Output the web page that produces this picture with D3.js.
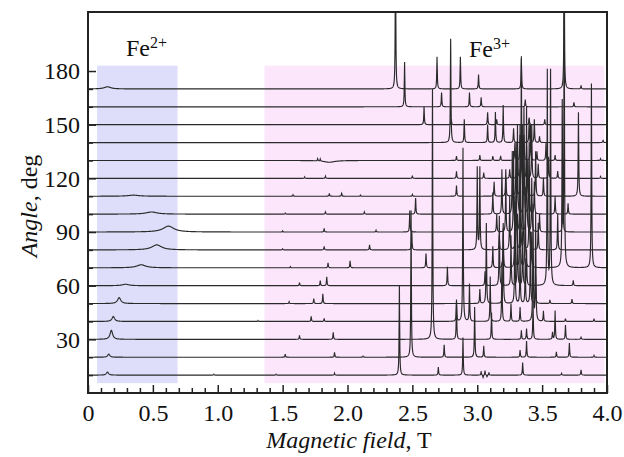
<!DOCTYPE html>
<html>
<head>
<meta charset="utf-8">
<script src="https://cdn.jsdelivr.net/npm/d3@7"></script>
<style>
  body { margin: 0; background: #fff; }
  svg, svg text { font-family: "Liberation Serif", "Times New Roman", serif; }
</style>
</head>
<body>
<div id="chart"></div>
<script>
// peaks of each spectrum: [field (T), intensity (in degrees of the angle axis), half-width (T, optional)]
const trace10 = [[0.15,1.7,0.01],[0.97,0.5],[1.45,0.5],[1.90,1.1],[2.40,50],[2.70,4.5],[2.89,21],[3.03,2],[3.045,-1.5],[3.06,2.5],[3.075,-1],[3.09,1.5],[3.35,7],[3.65,1],[3.80,3]];
const trace20 = [[0.16,1.7,0.01],[1.52,1.7],[1.90,2.8],[2.12,0.6],[2.49,82],[2.745,7],[2.98,28],[3.05,6],[3.33,4],[3.38,9],[3.61,3],[3.71,8],[3.90,1]];
const trace30 = [[0.18,5,0.012],[1.63,2.2],[1.89,3.9],[2.655,140],[2.84,21],[3.11,15],[3.34,5],[3.38,6],[3.43,21],[3.58,4],[3.60,16],[3.68,8],[3.80,1.5]];
const trace40 = [[0.195,2.8,0.012],[1.31,0.5],[1.72,2.8],[1.82,1.7],[2.84,12],[2.89,97],[2.94,21],[3.10,25],[3.19,33],[3.26,10],[3.33,8],[3.43,65],[3.45,60],[3.51,5.5],[3.68,1.5],[3.90,1.5]];
const trace50 = [[0.24,3.3,0.015],[1.55,1],[1.74,2.8],[1.81,5.5],[3.02,8],[3.07,45],[3.20,42],[3.29,57],[3.33,30],[3.37,25],[3.41,40],[3.45,15],[3.56,2],[3.73,2.5]];
const trace60 = [[0.29,0.8,0.03],[1.63,1.7],[1.79,2.8],[1.84,5],[2.77,10.5],[3.06,8],[3.17,39],[3.26,28],[3.31,40],[3.35,30],[3.38,20],[3.54,120],[3.565,120],[3.74,3]];
const trace70 = [[0.41,1.7,0.04],[1.56,0.6],[1.85,2.8],[2.02,3.9],[2.605,8],[3.12,12],[3.20,25],[3.29,40],[3.33,55],[3.37,45],[3.42,20],[3.655,90],[3.67,160],[3.88,103]];
const trace80 = [[0.53,2.8,0.045],[1.50,0.6],[1.82,2],[2.17,2.8],[2.495,11],[3.00,46],[3.02,46],[3.17,8],[3.25,30],[3.30,55],[3.35,70],[3.40,40],[3.47,15],[3.62,20]];
const trace90 = [[0.62,3.3,0.05],[1.50,0.6],[1.82,2],[2.22,1],[2.48,12],[3.15,10],[3.22,30],[3.28,45],[3.33,60],[3.38,70],[3.42,30],[3.48,10],[3.66,30]];
const trace100 = [[0.49,1.2,0.05],[1.52,0.6],[1.83,1.2],[2.13,1.2],[2.525,9],[3.12,12],[3.19,25],[3.27,35],[3.31,50],[3.36,60],[3.40,40],[3.44,18],[3.60,10],[3.70,6]];
const trace110 = [[0.35,0.6,0.05],[1.58,0.8],[1.86,1.6],[1.955,1.6],[2.10,0.6],[2.50,1],[2.84,6],[3.13,8],[3.22,15],[3.30,30],[3.34,78],[3.39,20],[3.45,25],[3.51,10],[3.78,47]];
const trace120 = [[1.67,0.8],[1.83,1.2],[2.50,1.5],[2.84,4],[3.05,3],[3.25,5],[3.31,20],[3.34,25],[3.38,18],[3.42,30],[3.47,8],[3.55,12],[3.62,4],[3.95,1]];
const trace130 = [[1.77,1.2],[1.79,1.2],[1.86,-1,0.05],[2.84,2.5],[3.02,3],[3.12,2.5],[3.18,2.5],[3.29,10],[3.33,14],[3.36,14],[3.41,20],[3.46,5],[3.53,10],[3.60,3],[3.95,1]];
const trace140 = [[2.795,58],[2.90,13],[3.08,10],[3.14,17],[3.20,21],[3.28,8],[3.40,13],[3.44,13],[3.48,3.5],[3.97,1.5]];
const trace150 = [[2.59,10],[2.80,3],[3.08,7],[3.15,3],[3.40,4],[3.52,3]];
const trace160 = [[2.44,25],[2.725,8],[2.94,8],[3.03,5],[3.37,4],[3.745,2.5]];
const trace170 = [[0.15,1.2,0.03],[2.37,80],[2.69,18],[2.87,18],[3.01,8],[3.34,17],[3.67,80],[3.80,2]];

const angles = [10, 20, 30, 40, 50, 60, 70, 80, 90, 100, 110, 120, 130, 140, 150, 160, 170];
const spectra = [trace10, trace20, trace30, trace40, trace50, trace60, trace70, trace80, trace90,
                 trace100, trace110, trace120, trace130, trace140, trace150, trace160, trace170];

const fe2Band = [0.07, 0.69];
const fe3Band = [1.36, 3.98];
const bandAngles = [5.5, 183];

const xTickValues = [0, 0.5, 1.0, 1.5, 2.0, 2.5, 3.0, 3.5, 4.0];
const yTickValues = [30, 60, 90, 120, 150, 180];
const yMinorValues = [10, 20, 40, 50, 70, 80, 100, 110, 130, 140, 160, 170];

const width = 624, height = 457;
const plotLeft = 88, plotRight = 607, plotTop = 12, plotBottom = 393;

const svg = d3.select("#chart").append("svg")
    .attr("width", width)
    .attr("height", height);

const xScale = d3.scaleLinear().domain([0, 4]).range([plotLeft, plotRight]);
const yScale = d3.scaleLinear().domain([0, 213]).range([plotBottom, plotTop]);

svg.append("clipPath").attr("id", "plot")
  .append("rect")
    .attr("x", plotLeft).attr("y", plotTop)
    .attr("width", plotRight - plotLeft).attr("height", plotBottom - plotTop);

// shaded regions
svg.append("rect")
    .attr("x", xScale(fe2Band[0]))
    .attr("y", yScale(bandAngles[1]))
    .attr("width", xScale(fe2Band[1]) - xScale(fe2Band[0]))
    .attr("height", yScale(bandAngles[0]) - yScale(bandAngles[1]))
    .attr("fill", "#dedefa");

svg.append("rect")
    .attr("x", xScale(fe3Band[0]))
    .attr("y", yScale(bandAngles[1]))
    .attr("width", xScale(fe3Band[1]) - xScale(fe3Band[0]))
    .attr("height", yScale(bandAngles[0]) - yScale(bandAngles[1]))
    .attr("fill", "#fce6fc");

// spectra: sum of lorentzian lines on top of each angle baseline
function spectrum(peaks) {
    const xs = d3.range(0, 4.0001, 0.002).concat(peaks.map(p => p[0])).sort((a, b) => a - b);
    return xs.map(x => {
        let v = 0;
        peaks.forEach(p => {
            const w = p[2] || 0.0025;
            const t = (x - p[0]) / w;
            v += p[1] / (1 + t * t);
        });
        return [x, v];
    });
}

const g = svg.append("g").attr("clip-path", "url(#plot)");

spectra.forEach((peaks, i) => {
    const a = angles[i];
    const line = d3.line()
        .x(d => xScale(d[0]))
        .y(d => yScale(a + d[1]));
    g.append("path")
        .datum(spectrum(peaks))
        .attr("d", line)
        .attr("fill", "none")
        .attr("stroke", "#2a2a2a")
        .attr("stroke-width", 1.15);
});

// axes, ticks inward
svg.append("g")
    .attr("transform", `translate(0,${plotBottom})`)
    .call(d3.axisBottom(xScale)
        .tickValues(xTickValues)
        .tickSizeInner(-8).tickSizeOuter(0)
        .tickPadding(11)
        .tickFormat(d => d === 0 ? "0" : d3.format(".1f")(d)));

svg.append("g")
    .attr("transform", `translate(0,${plotBottom})`)
    .call(d3.axisBottom(xScale)
        .tickValues(d3.range(1, 40).filter(k => k % 5 !== 0).map(k => k / 10))
        .tickSizeInner(-5).tickSizeOuter(0)
        .tickFormat(""));

svg.append("g")
    .attr("transform", `translate(${plotLeft},0)`)
    .call(d3.axisLeft(yScale)
        .tickValues(yTickValues)
        .tickSizeInner(-8).tickSizeOuter(0)
        .tickPadding(8));

svg.append("g")
    .attr("transform", `translate(${plotLeft},0)`)
    .call(d3.axisLeft(yScale)
        .tickValues(yMinorValues)
        .tickSizeInner(-5).tickSizeOuter(0)
        .tickFormat(""));

svg.selectAll(".domain").remove();
svg.selectAll("g").attr("font-family", null);
svg.selectAll(".tick line").attr("stroke", "#222").attr("stroke-width", 1.5);
svg.selectAll(".tick text")
    .style("font-family", "'Liberation Serif', 'Times New Roman', serif")
    .attr("font-size", 24)
    .attr("fill", "#111");

// frame
svg.append("rect")
    .attr("x", plotLeft).attr("y", plotTop)
    .attr("width", plotRight - plotLeft).attr("height", plotBottom - plotTop)
    .attr("fill", "none")
    .attr("stroke", "#222")
    .attr("stroke-width", 2);

// band labels
function ionLabel(x, y, charge) {
    const t = svg.append("text")
        .attr("x", x).attr("y", y)
        .attr("font-size", 24)
        .attr("fill", "#111");
    t.append("tspan").text("Fe");
    t.append("tspan").attr("dy", -8).attr("font-size", 16).text(charge);
}
ionLabel(126, 56, "2+");
ionLabel(469, 57, "3+");

// axis titles
const xt = svg.append("text")
    .attr("x", 349).attr("y", 448)
    .attr("text-anchor", "middle")
    .attr("font-size", 24)
    .attr("fill", "#111");
xt.append("tspan").attr("font-style", "italic").text("Magnetic field");
xt.append("tspan").text(", T");

const yt = svg.append("text")
    .attr("transform", "translate(37,206) rotate(-90)")
    .attr("text-anchor", "middle")
    .attr("font-size", 24)
    .attr("fill", "#111");
yt.append("tspan").attr("font-style", "italic").text("Angle");
yt.append("tspan").text(", deg");
</script>
</body>
</html>
